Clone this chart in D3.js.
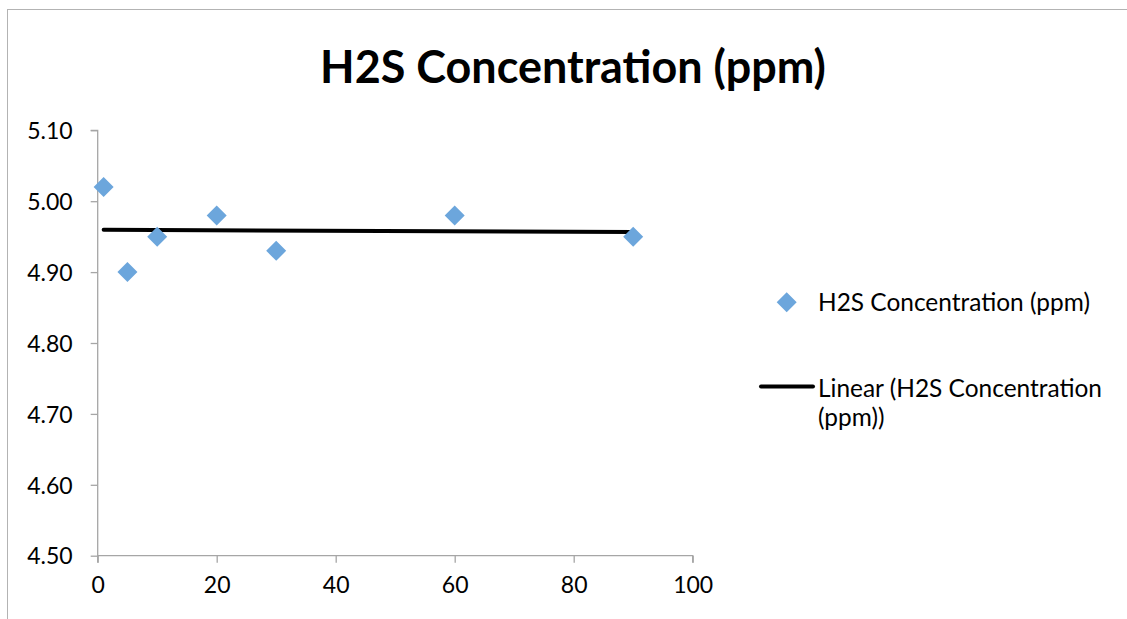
<!DOCTYPE html>
<html><head><meta charset="utf-8">
<script src="https://cdn.jsdelivr.net/npm/d3@7"></script>
<style>html,body{margin:0;padding:0;background:#fff;}svg{display:block;}</style>
</head><body>
<svg id="c" width="1127" height="619"></svg>
<script>
const title = "H2S Concentration (ppm)";
const seriesName = "H2S Concentration (ppm)";
const trendName = ["Linear (H2S Concentration", "(ppm))"];
const xValues = [1, 5, 10, 20, 30, 60, 90];
const yValues = [5.02, 4.90, 4.95, 4.98, 4.93, 4.98, 4.95];
const xTicks = [0, 20, 40, 60, 80, 100];
const yTicks = [4.50, 4.60, 4.70, 4.80, 4.90, 5.00, 5.10];

const FONT = "Lato, 'Open Sans', 'Liberation Sans', sans-serif";
const svg = d3.select("#c");
svg.append("rect").attr("x", 7.5).attr("y", 9.5).attr("width", 1300).attr("height", 800)
  .attr("fill", "#fff").attr("stroke", "#b3b3b3").attr("stroke-width", 1);

const x = d3.scaleLinear().domain([0, 100]).range([97.7, 692.7]);
const y = d3.scaleLinear().domain([4.5, 5.1]).range([555.7, 130.3]);

function fit(sel, target) {
  const w = sel.node().getComputedTextLength();
  const fs = parseFloat(sel.attr("font-size"));
  sel.attr("font-size", fs * target / w);
}

// axes
const gy = svg.append("g").attr("transform", `translate(${x(0)},0)`)
  .call(d3.axisLeft(y).tickValues(yTicks).tickFormat(d3.format(".2f")).tickSize(7).tickPadding(18));
const gx = svg.append("g").attr("transform", `translate(0,${y(4.5)})`)
  .call(d3.axisBottom(x).tickValues(xTicks).tickSize(7).tickPadding(14));
[gy, gx].forEach(g => {
  g.select(".domain").attr("stroke", "#a6a6a6").attr("stroke-width", 1.3);
  g.selectAll(".tick line").attr("stroke", "#a6a6a6").attr("stroke-width", 1.3);
  g.selectAll(".tick text").attr("fill", "#000").attr("font-family", FONT).attr("font-size", 23);
});
gy.select(".domain").attr("d", `M-7,${y(5.1)}H0V${y(4.5)}`);
gx.select(".domain").attr("d", `M${x(0)},7V0H${x(100)}V7`);
gx.selectAll(".tick text").attr("dy", "0.71em");
gy.selectAll(".tick text").attr("dy", "0.36em");

// trend line (least squares from the data)
const mx = d3.mean(xValues), my = d3.mean(yValues);
const slope = d3.sum(xValues, (v, i) => (v - mx) * (yValues[i] - my)) / d3.sum(xValues, v => (v - mx) ** 2);
const icpt = my - slope * mx;
const xr = d3.extent(xValues);
svg.append("path")
  .attr("d", d3.line().x(d => x(d)).y(d => y(icpt + slope * d))(xr))
  .attr("stroke", "#000").attr("stroke-width", 4).attr("stroke-linecap", "round").attr("fill", "none");

// markers
const diamond = d3.symbol().type(d3.symbolSquare).size(200);
svg.append("g").selectAll("path").data(xValues).join("path")
  .attr("d", diamond())
  .attr("transform", (d, i) => `translate(${x(d)},${y(yValues[i])}) rotate(45)`)
  .attr("fill", "#6ca6dc");

// title
const t = svg.append("text").attr("x", 573).attr("y", 83).attr("text-anchor", "middle")
  .attr("font-family", FONT).attr("font-weight", "bold").attr("font-size", 42).attr("fill", "#000").text(title);
fit(t, 506);

// legend
svg.append("path").attr("d", diamond()).attr("transform", "translate(786.7,302.3) rotate(45)").attr("fill", "#6ca6dc");
const l1 = svg.append("text").attr("x", 818).attr("y", 311).attr("font-family", FONT).attr("font-size", 22).attr("fill", "#000").text(seriesName);
fit(l1, 272);
const fsL = +l1.attr("font-size");
svg.append("line").attr("x1", 761).attr("x2", 813).attr("y1", 386.5).attr("y2", 386.5)
  .attr("stroke", "#000").attr("stroke-width", 4).attr("stroke-linecap", "round");
trendName.forEach((s, i) => {
  svg.append("text").attr("x", 818).attr("y", 397 + i * 28.5).attr("font-family", FONT)
    .attr("font-size", fsL).attr("fill", "#000").text(s);
});
</script>
</body></html>
